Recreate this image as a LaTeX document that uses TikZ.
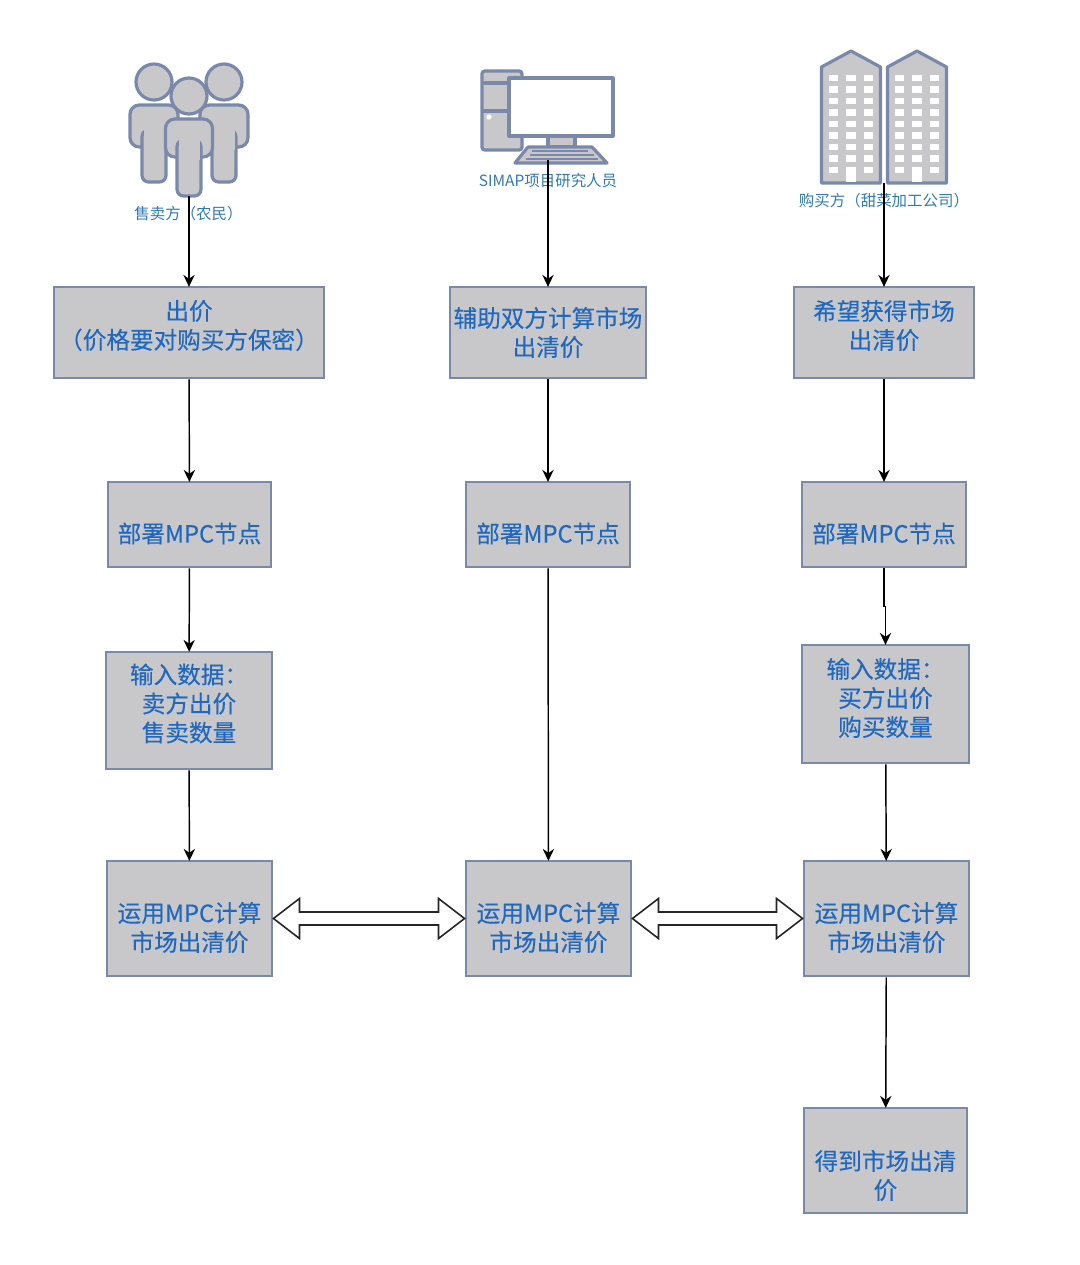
\documentclass[tikz,border=0pt]{standalone}
\usepackage{fontspec}
\setmainfont{Noto Sans CJK SC}
\usepackage{xcolor}
\usetikzlibrary{arrows.meta,calc}
\definecolor{cFill}{RGB}{200,200,203}
\definecolor{cEdge}{RGB}{122,137,170}
\definecolor{cText}{RGB}{32,104,190}
\definecolor{cLabel}{RGB}{48,122,180}
\tikzset{
	flowbox/.style={draw=cEdge, line width=2.2pt, fill=cFill, inner sep=0pt},
	flowtext/.style={align=center, text=cText, inner sep=0pt,
		font=\fontsize{17.7}{21.75}\selectfont\addfontfeature{FakeBold=0.25}},
	iconlabel/.style={text=cLabel, inner sep=0pt, font=\fontsize{11.6}{13}\selectfont},
	icon/.style={draw=cEdge, line width=2.4pt, fill=cFill, line join=round},
	marr/.style={-{Stealth[length=9pt,width=8.5pt]}, line width=1.1pt, draw=black, shorten >=-1pt},
	fatarr/.style={draw=black!85, line width=1.2pt, fill=white, line join=miter},
}
\newcommand{\boxat}[7]{
	\node[flowbox, minimum width=#4*0.75pt, minimum height=#5*0.75pt] (#1) at (#2,#3) {};
	\node[flowtext] (#1text) at ($(#1)+(0,#6)$) {#7};
}
\newcommand{\fatarrow}[3]{\draw[fatarr] (#1.east) -- ++(#3,-20) -- ++(0,13.5) -- ($(#2.west)+(-#3,-6.5)$) -- ++(0,-13.5) -- (#2.west) -- ++(-#3,20) -- ++(0,-13.5) -- ($(#1.east)+(#3,6.5)$) -- ++(0,13.5) -- cycle;}

\begin{document}
\begin{tikzpicture}[x=0.75pt,y=-0.75pt]
	\useasboundingbox (0,0) rectangle (1080,1265);

	\foreach \px/\py in {154/0,224/0,189/14}{
		\ifnum\py=0
		\draw[icon,rounded corners=7pt] (\px-24,105) rectangle (\px+24,147);
		\draw[icon,rounded corners=5pt] (\px-12,130) rectangle (\px+12,182);
		\fill[cFill] (\px-10.5,125) rectangle (\px+10.5,150);
		\else
		\draw[icon,rounded corners=7pt] (\px-23.5,119) rectangle (\px+23.5,157);
		\draw[icon,rounded corners=5pt] (\px-12,140) rectangle (\px+12,196);
		\fill[cFill] (\px-10.5,135) rectangle (\px+10.5,160);
		\fi
		\draw[icon] (\px,82+\py) circle (13.5pt);
	}
	\coordinate (people) at (189,196);
	\node[iconlabel] (peoplelabel) at (188.5,214) {售卖方（农民）};

	\draw[icon,rounded corners=2pt] (482,71) rectangle (522,150);
	\draw[icon] (482,83) -- (522,83);
	\draw[icon] (482,111) -- (522,111);
	\fill[white] (489,117) circle (2pt);
	\draw[icon] (548,136) rectangle (575,147);
	\draw[icon,fill=white] (509,78) rectangle (613,136);
	\draw[icon] (528,147) -- (592,147) -- (607,163) -- (515,163) -- cycle;
	\foreach \ky/\kl/\kr in {151/532/588,155/530/594,159/526/598}{
		\draw[cEdge,line width=1pt] (\kl,\ky) -- (\kr,\ky);
	}
	\coordinate (computer) at (548,160);
	\node[iconlabel] (computerlabel) at (548,181) {SIMAP项目研究人员};

	\foreach \bx in {851,917}{
		\draw[icon] (\bx-29.5,183) -- (\bx-29.5,67) -- (\bx,51) -- (\bx+29.5,67) -- (\bx+29.5,183) -- cycle;
		\foreach \wx in {-17.5,0,17.5}{
			\foreach \wy in {78,89.5,...,170}{
				\fill[white] (\bx+\wx-4.7,\wy-3.2) rectangle (\bx+\wx+4.7,\wy+3.2);
			}
		}
		\fill[white] (\bx-4.7,167) rectangle (\bx+4.7,182);
	}
	\coordinate (building) at (884,183);
	\node[iconlabel] (buildinglabel) at (884,201) {购买方（甜菜加工公司）};

	\boxat{sellbid}{189}{332.5}{270}{91}{-7}{出价\\（价格要对购买方保密）}
	\boxat{sellnode}{189.5}{524.5}{163}{85}{9}{部署MPC节点}
	\boxat{sellinput}{189}{710.5}{166}{117}{-7}{输入数据：\\卖方出价\\售卖数量}
	\boxat{sellcalc}{189.5}{918.5}{165}{115}{9}{运用MPC计算\\市场出清价}

	\boxat{simhelp}{548}{332.5}{196}{91}{0}{辅助双方计算市场\\出清价}
	\boxat{simnode}{548}{524.5}{164}{85}{9}{部署MPC节点}
	\boxat{simcalc}{548.5}{918.5}{165}{115}{9}{运用MPC计算\\市场出清价}

	\boxat{buywish}{884}{332.5}{180}{91}{-7}{希望获得市场\\出清价}
	\boxat{buynode}{884}{524.5}{164}{85}{9}{部署MPC节点}
	\boxat{buyinput}{885.5}{704}{167}{118}{-6}{输入数据：\\买方出价\\购买数量}
	\boxat{buycalc}{886.5}{918.5}{165}{115}{9}{运用MPC计算\\市场出清价}
	\boxat{buyresult}{885.5}{1160.5}{163}{105}{15}{得到市场出清\\价}

	\draw[marr] (people) -- (sellbid.north);
	\draw[marr] (sellbid) -- (sellnode);
	\draw[marr] (sellnode) -- (sellinput);
	\draw[marr] (sellinput) -- (sellcalc);
	\draw[marr] (computer) -- (simhelp.north);
	\draw[marr] (simhelp) -- (simnode);
	\draw[marr] (simnode) -- (simcalc);
	\draw[marr] (building) -- (buywish.north);
	\draw[marr] (buywish) -- (buynode);
	\draw[marr] (buynode.south) -- ++(0,38) -| (buyinput.north);
	\draw[marr] (buyinput) -- (buycalc);
	\draw[marr] (buycalc) -- (buyresult);

	\fatarrow{sellcalc}{simcalc}{26}
	\fatarrow{simcalc}{buycalc}{26}
\end{tikzpicture}
\end{document}
